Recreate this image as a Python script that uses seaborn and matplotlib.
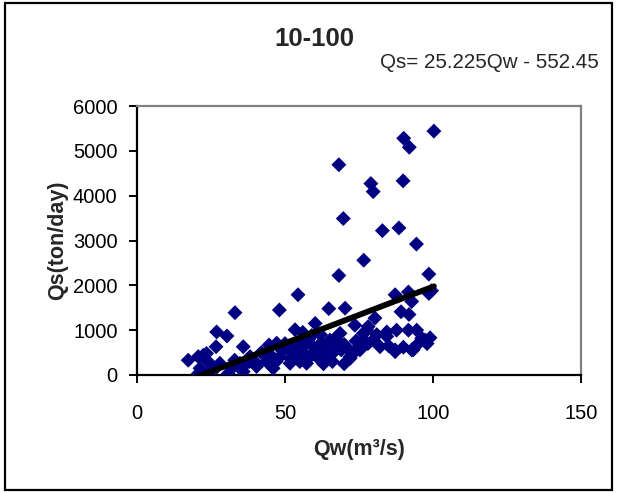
import matplotlib
matplotlib.use("Agg")
import matplotlib.pyplot as plt
import seaborn as sns
import pandas as pd
import numpy as np
from matplotlib.patches import Rectangle

# ---- data ----
qw = [
    # upper points
    68.2, 90.1, 92.0, 100.3, 79.0, 79.8, 89.9, 69.7, 82.9, 88.5, 94.4, 76.6, 68.2, 98.6,
    # middle
    98.6, 99.5, 87.2, 91.7, 92.8, 80.4, 89.2, 91.9, 54.4, 48.1, 33.1, 64.8, 70.3, 60.2,
    53.4, 73.6, 78.1, 76.5, 26.9, 30.4, 26.7, 35.9, 44.6, 47.2, 50.0, 55.1, 68.0, 68.6, 65.2,
    # lower right cluster
    87.2, 93.3, 82.1, 96.2, 97.3, 94.5, 91.7, 87.7, 84.4, 77.6, 76.5, 79.8, 84.4, 87.2,
    92.8, 96.7, 75.3, 72.0, 72.0, 98.0, 95.0, 85.0, 90.0, 99.0, 78.0, 81.0,
    # lower left
    17.3, 20.7, 23.5, 22.4, 21.3, 20.7, 25.2, 28.0, 32.0, 34.8, 38.2, 40.4, 43.8, 48.3,
    46.0, 51.1, 51.7, 57.3, 58.4, 59.6, 61.8, 30.8, 35.9, 40.4,
    # dense middle
    52.0, 53.0, 54.0, 55.0, 56.0, 57.0, 58.0, 60.0, 61.0, 62.0, 63.0, 64.0, 65.0, 66.0,
    67.0, 69.0, 70.0, 71.0, 73.0, 74.0, 75.0, 62.0, 59.0, 56.0, 45.0, 47.0, 49.0, 42.0,
    38.0, 36.0, 27.0, 24.0, 33.0, 63.0, 66.0, 70.0,
]
qs = [
    4690, 5280, 5080, 5440, 4270, 4090, 4330, 3490, 3220, 3280, 2920, 2560, 2220, 2250,
    1820, 1880, 1790, 1850, 1640, 1270, 1410, 1350, 1790, 1450, 1390, 1480, 1490, 1150,
    1010, 1110, 1080, 930, 960, 870, 630, 630, 670, 710, 700, 670, 700, 930, 780,
    560, 560, 630, 820, 780, 1000, 1000, 1000, 960, 1000, 780, 780, 860, 520,
    560, 780, 560, 370, 410, 700, 700, 650, 620, 830, 700, 900,
    330, 410, 480, 440, 150, 30, 110, 260, 150, 260, 410, 190, 300, 410,
    150, 560, 260, 260, 410, 480, 340, 30, 75, 260,
    350, 600, 450, 300, 520, 700, 800, 600, 450, 700, 550, 380, 620, 480,
    820, 560, 680, 600, 480, 760, 640, 900, 880, 950, 450, 300, 550, 500,
    300, 200, 180, 300, 330, 250, 300, 250,
]

slope = 25.225
intercept = -552.45
title = "10-100"
equation = "Qs= 25.225Qw - 552.45"
x_ticks = [0, 50, 100, 150]
y_ticks = [0, 1000, 2000, 3000, 4000, 5000, 6000]

df = pd.DataFrame({"Qw": qw, "Qs": qs})

sns.set_theme(style="white")
plt.rcParams["font.family"] = ["Liberation Sans", "DejaVu Sans"]

W, H = 618, 493
fig = plt.figure(figsize=(W / 100, H / 100), dpi=100)
ax = fig.add_axes([137 / W, 1 - 375 / H, (581 - 137) / W, (375 - 106) / H])

sns.scatterplot(data=df, x="Qw", y="Qs", marker="D", color="#000080",
                s=58, edgecolor="none", linewidth=0, ax=ax, zorder=3)

tx = np.array([min(qw), max(qw)])
ax.plot(tx, slope * tx + intercept, color="black", lw=4.2, zorder=4,
        solid_capstyle="round")

ax.set_xlim(0, 150)
ax.set_ylim(0, 6000)
ax.set_xticks(x_ticks)
ax.set_yticks(y_ticks)
ax.set_xlabel("")
ax.set_ylabel("")

for side in ["left", "bottom"]:
    ax.spines[side].set_color("black")
    ax.spines[side].set_linewidth(1.6)
for side in ["top", "right"]:
    ax.spines[side].set_color("#808080")
    ax.spines[side].set_linewidth(1.6)
    ax.spines[side].set_visible(True)

ax.tick_params(axis="both", which="major", direction="out", length=6, width=1.4,
               color="black", labelsize=14.5, labelcolor="black")
ax.tick_params(axis="x", pad=15, bottom=True)
ax.tick_params(axis="y", pad=8, left=True)

fig.text(314 / W, 1 - 39 / H, title, ha="center", va="center",
         fontsize=18.5, fontweight="bold")
fig.text(599 / W, 1 - 62 / H, equation, ha="right", va="center", fontsize=14.8)
fig.text(58 / W, 1 - 240 / H, "Qs(ton/day)", ha="center", va="center",
         rotation=90, fontsize=15.5, fontweight="bold")
fig.text(359 / W, 1 - 449 / H, "Qw(m³/s)", ha="center", va="center",
         fontsize=15.5, fontweight="bold")

fig.patches.append(Rectangle((5 / W, 3 / H), 607 / W, 487 / H, transform=fig.transFigure,
                             fill=False, edgecolor="black", linewidth=1.6))

fig.savefig("out.png", dpi=100)
